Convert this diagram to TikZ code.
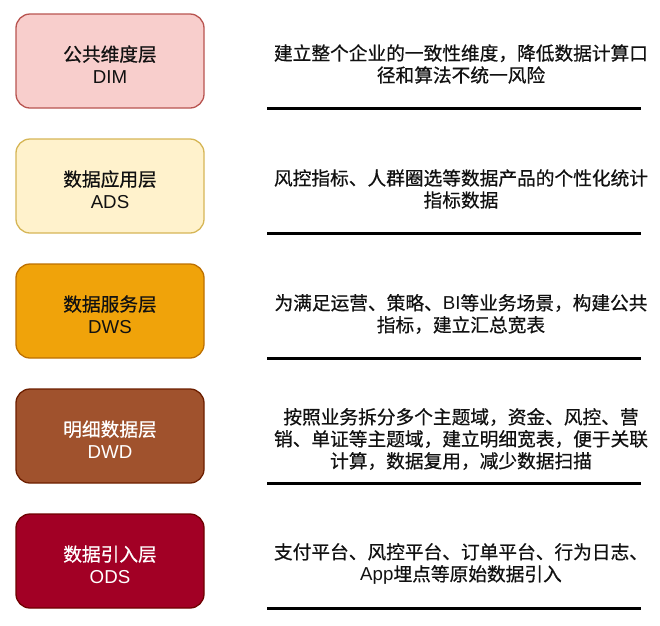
\documentclass[tikz,border=0pt]{standalone}
\usepackage{fontspec}
\setmainfont{Noto Sans CJK SC}[FakeBold=0.6]
\newfontfamily\lat{Liberation Sans}
\definecolor{dimfill}{HTML}{F8CECC}\definecolor{dimline}{HTML}{B85450}
\definecolor{adsfill}{HTML}{FFF2CC}\definecolor{adsline}{HTML}{D6B656}
\definecolor{dwsfill}{HTML}{F0A30A}\definecolor{dwsline}{HTML}{BD7000}
\definecolor{dwdfill}{HTML}{A0522D}\definecolor{dwdline}{HTML}{6D1F00}
\definecolor{odsfill}{HTML}{A20025}\definecolor{odsline}{HTML}{6F0000}
\definecolor{txt}{HTML}{111111}
\newcommand{\topstrut}{\rule{0pt}{22.5pt}}
\begin{document}
\begin{tikzpicture}[x=1pt,y=-1pt,
  layer/.style={draw, rounded corners=14pt, minimum width=188pt, minimum height=94pt,
    line width=1.3pt, align=center, inner sep=0pt, text=txt,
    font=\fontsize{18.7}{22}\selectfont},
  desc/.style={align=center, inner sep=0pt, text=txt, font=\fontsize{18.7}{22}\selectfont},
  sepline/.style={line width=3pt, black}]
\useasboundingbox (0,0) rectangle (660,625);

\node[layer, fill=dimfill, draw=dimline] (dim) at (110,61) {\topstrut 公共维度层\\{\lat DIM}};
\node[layer, fill=adsfill, draw=adsline] (ads) at (110,186) {\topstrut 数据应用层\\{\lat ADS}};
\node[layer, fill=dwsfill, draw=dwsline] (dws) at (110,311) {\topstrut 数据服务层\\{\lat DWS}};
\node[layer, fill=dwdfill, draw=dwdline, text=white] (dwd) at (110,436) {\topstrut 明细数据层\\{\lat DWD}};
\node[layer, fill=odsfill, draw=odsline, text=white] (ods) at (110,561) {\topstrut 数据引入层\\{\lat ODS}};

\node[desc] (t1) at (461,64) {建立整个企业的一致性维度，降低数据计算口\\径和算法不统一风险};
\node[desc] (t2) at (461,189) {风控指标、人群圈选等数据产品的个性化统计\\指标数据};
\node[desc] (t3) at (461,314) {为满足运营、策略、{\lat BI}等业务场景，构建公共\\指标，建立汇总宽表};
\node[desc] (t4) at (461,439) {按照业务拆分多个主题域，资金、风控、营\\销、单证等主题域，建立明细宽表，便于关联\\计算，数据复用，减少数据扫描};
\node[desc] (t5) at (461,564) {支付平台、风控平台、订单平台、行为日志、\\{\lat App}埋点等原始数据引入};

\foreach \i/\y in {1/108,2/233,3/358,4/483,5/608}{
  \coordinate (l\i a) at (267,\y);
  \coordinate (l\i b) at (641,\y);
  \draw[sepline] (l\i a) -- (l\i b);
}
\end{tikzpicture}
\end{document}
